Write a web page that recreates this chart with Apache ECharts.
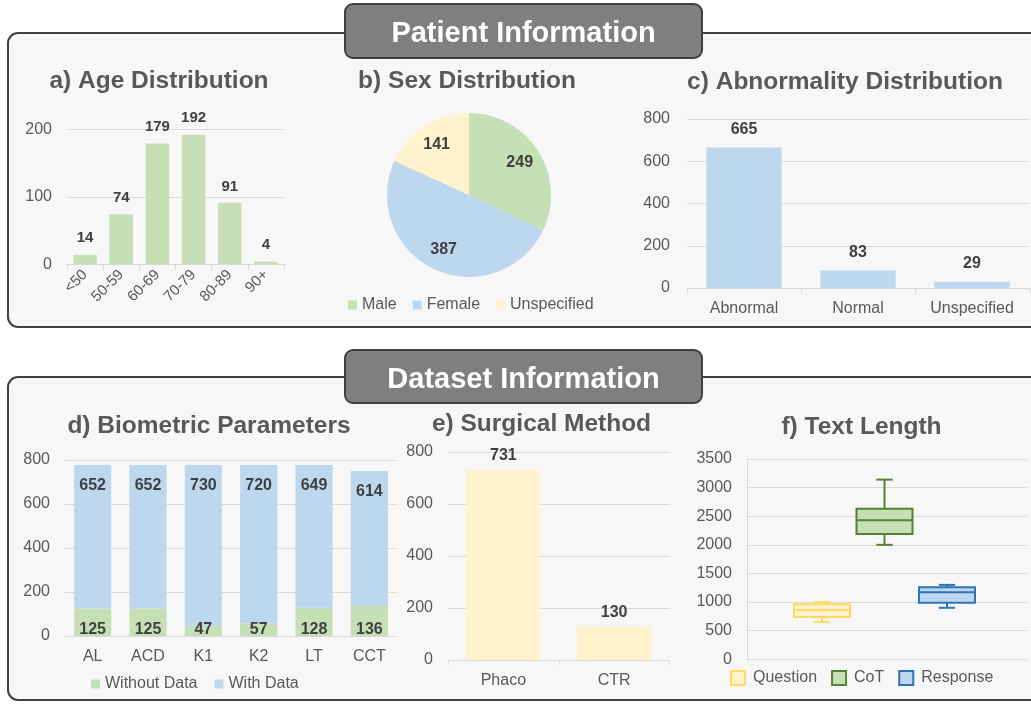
<!DOCTYPE html>
<html><head><meta charset="utf-8">
<script src="https://cdn.jsdelivr.net/npm/echarts@6/dist/echarts.min.js"></script>
<style>html,body{margin:0;padding:0;background:#fff}#main{width:1031px;height:704px}</style>
</head><body><div id="main"></div>
<script>
// ---------- data ----------
const ageCategories = ['<50', '50-59', '60-69', '70-79', '80-89', '90+'];
const ageValues = [14, 74, 179, 192, 91, 4];
const ageTicks = [0, 100, 200];

const sexNames = ['Male', 'Female', 'Unspecified'];
const sexValues = [249, 387, 141];

const abnCategories = ['Abnormal', 'Normal', 'Unspecified'];
const abnValues = [665, 83, 29];
const abnTicks = [0, 200, 400, 600, 800];

const bioCategories = ['AL', 'ACD', 'K1', 'K2', 'LT', 'CCT'];
const bioWithout = [125, 125, 47, 57, 128, 136];
const bioWith = [652, 652, 730, 720, 649, 614];
const bioSeriesNames = ['Without Data', 'With Data'];
const bioTicks = [0, 200, 400, 600, 800];

const surgCategories = ['Phaco', 'CTR'];
const surgValues = [731, 130];
const surgTicks = [0, 200, 400, 600, 800];

const textSeriesNames = ['Question', 'CoT', 'Response'];
// [min, Q1, median, Q3, max]
const questionBox = [650, 740, 860, 960, 1000];
const cotBox = [2000, 2190, 2430, 2630, 3140];
const responseBox = [900, 990, 1170, 1260, 1300];
const textTicks = [0, 500, 1000, 1500, 2000, 2500, 3000, 3500];

// ---------- style ----------
const FONT = '"Liberation Sans", Arial, Helvetica, sans-serif';
const GREEN = '#c5e0b4', BLUE = '#bdd7ee', YELLOW = '#fff2cc';
const GRID_LINE = '#d9d9d9';
const AXIS_TXT = '#595959';
const LABEL_TXT = '#404040';

function valAxis(gi, ticks, margin, showLine) {
  return {
    type: 'value', gridIndex: gi,
    min: ticks[0], max: ticks[ticks.length - 1], interval: ticks[1] - ticks[0],
    axisLine: { show: !!showLine, onZero: false, lineStyle: { color: GRID_LINE, width: 1 } },
    axisTick: { show: false },
    splitLine: { show: true, lineStyle: { color: GRID_LINE, width: 1 } },
    axisLabel: { color: AXIS_TXT, fontSize: 16, fontFamily: FONT, margin: margin,
      formatter: function (v) { return String(v); } }
  };
}
function catAxis(gi, data, ticks, extraLabel) {
  return {
    type: 'category', gridIndex: gi, data: data,
    axisLine: { show: true, lineStyle: { color: GRID_LINE, width: 1 } },
    axisTick: { show: ticks, length: 5, lineStyle: { color: GRID_LINE } },
    axisLabel: Object.assign({ color: AXIS_TXT, fontSize: 16, fontFamily: FONT, margin: 13, interval: 0 }, extraLabel || {})
  };
}
function barLabel(pos, dist) {
  return { show: true, position: pos, distance: dist, color: LABEL_TXT, fontWeight: 'bold', fontSize: 16, fontFamily: FONT };
}
function boxRenderer(fill, stroke) {
  return function (params, api) {
    const x = api.value(0);
    const pMin = api.coord([x, api.value(1)]);
    const pQ1 = api.coord([x, api.value(2)]);
    const pMed = api.coord([x, api.value(3)]);
    const pQ3 = api.coord([x, api.value(4)]);
    const pMax = api.coord([x, api.value(5)]);
    const unit = api.size([1, 0])[0];
    const half = unit * 0.448, cap = unit * 0.13;
    const cx = pMed[0];
    const ls = { stroke: stroke, lineWidth: 2 };
    return { type: 'group', children: [
      { type: 'line', shape: { x1: cx, y1: pMax[1], x2: cx, y2: pQ3[1] }, style: ls },
      { type: 'line', shape: { x1: cx, y1: pQ1[1], x2: cx, y2: pMin[1] }, style: ls },
      { type: 'line', shape: { x1: cx - cap, y1: pMax[1], x2: cx + cap, y2: pMax[1] }, style: ls },
      { type: 'line', shape: { x1: cx - cap, y1: pMin[1], x2: cx + cap, y2: pMin[1] }, style: ls },
      { type: 'rect', shape: { x: cx - half, y: pQ3[1], width: 2 * half, height: pQ1[1] - pQ3[1] }, style: { fill: fill, stroke: stroke, lineWidth: 2 } },
      { type: 'line', shape: { x1: cx - half, y1: pMed[1], x2: cx + half, y2: pMed[1] }, style: ls }
    ]};
  };
}
function titleText(txt, x, y) {
  return { type: 'text', x: x, y: y, z: 5,
    style: { text: txt, fill: '#595959', font: 'bold 24.5px ' + FONT, align: 'center', verticalAlign: 'middle', textAlign: 'center', textVerticalAlign: 'middle' } };
}
function banner(txt, y, h, ty) {
  return [
    { type: 'rect', z: 10, shape: { x: 345, y: y, width: 357, height: h, r: 8 }, style: { fill: '#7f7f7f', stroke: '#404040', lineWidth: 2 } },
    { type: 'text', z: 11, x: 523.5, y: ty,
      style: { text: txt, fill: '#ffffff', font: 'bold 29px ' + FONT, align: 'center', verticalAlign: 'middle', textAlign: 'center', textVerticalAlign: 'middle' } }
  ];
}

const boxColors = [[YELLOW, '#ffd966'], [GREEN, '#548235'], [BLUE, '#2e75b6']];
const boxData = [questionBox, cotBox, responseBox];

const chart = echarts.init(document.getElementById('main'), null, { renderer: 'canvas' });

const option = {
  backgroundColor: '#ffffff',
  animation: false,
  textStyle: { fontFamily: FONT },
  graphic: [
    { type: 'rect', z: -10, shape: { x: 8, y: 33, width: 1070, height: 294, r: 10 }, style: { fill: '#f7f7f7', stroke: '#404040', lineWidth: 2 } },
    { type: 'rect', z: -10, shape: { x: 8, y: 377, width: 1070, height: 323, r: 10 }, style: { fill: '#f7f7f7', stroke: '#404040', lineWidth: 2 } }
  ].concat(banner('Patient Information', 4, 54, 33.5))
   .concat(banner('Dataset Information', 350, 53, 379.5))
   .concat([
    titleText('a) Age Distribution', 159, 81),
    titleText('b) Sex Distribution', 467, 81),
    titleText('c) Abnormality Distribution', 845, 82),
    titleText('d) Biometric Parameters', 209, 426),
    titleText('e) Surgical Method', 541.5, 424),
    titleText('f) Text Length', 861.5, 427)
  ]),
  legend: [
    { data: sexNames, left: 348, top: 297, icon: 'rect', itemWidth: 9, itemHeight: 9, itemGap: 16, padding: 0,
      textStyle: { color: AXIS_TXT, fontSize: 16, fontFamily: FONT } },
    { data: bioSeriesNames, left: 91, top: 676, icon: 'rect', itemWidth: 9, itemHeight: 9, itemGap: 17, padding: 0,
      textStyle: { color: AXIS_TXT, fontSize: 16, fontFamily: FONT } },
    { data: textSeriesNames.map(function (n, i) {
        return { name: n, itemStyle: { color: boxColors[i][0], borderColor: boxColors[i][1], borderWidth: 2 } };
      }),
      left: 730, top: 670, icon: 'rect', itemWidth: 14, itemHeight: 14, itemGap: 14, padding: 0,
      textStyle: { color: AXIS_TXT, fontSize: 16, fontFamily: FONT, padding: [0, 0, 0, 3] } }
  ],
  grid: [
    { left: 67, top: 129.3, width: 217, height: 135, outerBoundsMode: 'none' },
    { left: 687, top: 119, width: 342, height: 169, outerBoundsMode: 'none' },
    { left: 65, top: 460, width: 332, height: 176, outerBoundsMode: 'none' },
    { left: 448, top: 452, width: 221.5, height: 208, outerBoundsMode: 'none' },
    { left: 747, top: 459, width: 280, height: 200.3, outerBoundsMode: 'none' }
  ],
  xAxis: [
    catAxis(0, ageCategories, true, { rotate: 45, fontSize: 15, margin: 8 }),
    catAxis(1, abnCategories, true),
    catAxis(2, bioCategories, false),
    catAxis(3, surgCategories, true),
    { type: 'value', gridIndex: 4, min: -1.2, max: 3.28, show: false, splitLine: { show: false } }
  ],
  yAxis: [
    valAxis(0, ageTicks, 15),
    valAxis(1, abnTicks, 17),
    valAxis(2, bioTicks, 15),
    valAxis(3, surgTicks, 15),
    valAxis(4, textTicks, 15, true)
  ],
  series: [
    { type: 'bar', xAxisIndex: 0, yAxisIndex: 0, data: ageValues, barCategoryGap: '35%',
      itemStyle: { color: GREEN }, label: Object.assign(barLabel('top', 9), { fontSize: 15 }) },
    { type: 'pie', name: 'sex', center: [469, 195], radius: 82, startAngle: 90, clockwise: true,
      label: { show: false }, labelLine: { show: false }, emphasis: { disabled: true },
      itemStyle: { borderWidth: 0 },
      data: sexNames.map(function (n, i) { return { name: n, value: sexValues[i], itemStyle: { color: [GREEN, BLUE, YELLOW][i] } }; }) },
    { type: 'pie', name: 'sexLabels', center: [469, 195], radius: [32, 82], startAngle: 90, clockwise: true, silent: true,
      emphasis: { disabled: true }, itemStyle: { color: 'rgba(0,0,0,0)', borderWidth: 0 },
      label: { show: true, position: 'inside', color: LABEL_TXT, fontWeight: 'bold', fontSize: 16, fontFamily: FONT, formatter: '{c}' },
      labelLine: { show: false },
      data: sexNames.map(function (n, i) { return { name: n, value: sexValues[i] }; }) },
    { type: 'bar', xAxisIndex: 1, yAxisIndex: 1, data: abnValues, barCategoryGap: '34%',
      itemStyle: { color: BLUE }, label: barLabel('top', 10) },
    { type: 'bar', name: bioSeriesNames[0], xAxisIndex: 2, yAxisIndex: 2, stack: 'bio', data: bioWithout, barCategoryGap: '33%',
      itemStyle: { color: GREEN }, label: barLabel('insideBottom', -2) },
    { type: 'bar', name: bioSeriesNames[1], xAxisIndex: 2, yAxisIndex: 2, stack: 'bio', data: bioWith, barCategoryGap: '33%',
      itemStyle: { color: BLUE }, label: barLabel('insideTop', 13) },
    { type: 'bar', xAxisIndex: 3, yAxisIndex: 3, data: surgValues, barCategoryGap: '33%',
      itemStyle: { color: YELLOW }, label: barLabel('top', 6) }
  ].concat(textSeriesNames.map(function (n, i) {
    return { type: 'custom', name: n, xAxisIndex: 4, yAxisIndex: 4,
      renderItem: boxRenderer(boxColors[i][0], boxColors[i][1]),
      itemStyle: { color: boxColors[i][0], borderColor: boxColors[i][1] },
      encode: { x: 0, y: [1, 2, 3, 4, 5] },
      data: [[i].concat(boxData[i])] };
  }))
};
chart.setOption(option);
</script></body></html>
